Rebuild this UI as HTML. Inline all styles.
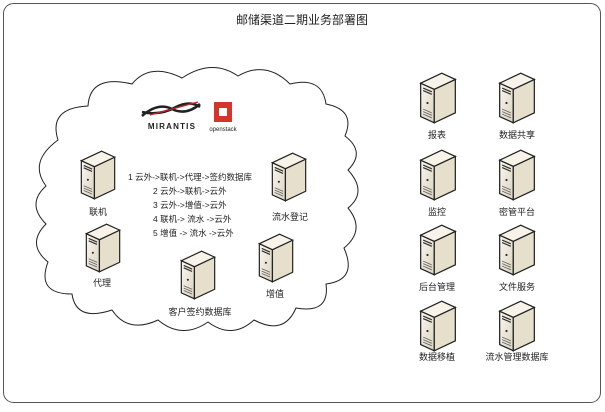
<!DOCTYPE html>
<html><head><meta charset="utf-8"><style>
html,body{margin:0;padding:0;background:#fff;}
svg text{font-family:"Liberation Sans","Noto Sans CJK SC",sans-serif;fill:#222;}
</style></head><body>
<svg width="605" height="407" viewBox="0 0 605 407" xmlns="http://www.w3.org/2000/svg">
<defs>
<linearGradient id="gf" x1="0" y1="0" x2="1" y2="1"><stop offset="0" stop-color="#fbf8f0"/><stop offset="1" stop-color="#d9d2bf"/></linearGradient>
<symbol id="srv" viewBox="0 0 30 42">
<path d="M1 9 L12 14 L12 41 L1 36 Z" fill="url(#gf)" stroke="#222" stroke-width="1"/>
<path d="M12 14 L29 6 L29 33 L12 41 Z" fill="#e6dfcc" stroke="#222" stroke-width="1"/>
<path d="M1 9 L18 1 L29 6 L12 14 Z" fill="#f7f3e8" stroke="#222" stroke-width="1"/>
<path d="M3 13 L10 16 M3 15 L10 18" stroke="#333" stroke-width="1"/>
<circle cx="6.5" cy="25" r="0.9" fill="#333"/>
<path d="M3 30 L10 33 M3 32 L10 35 M3 34 L10 37" stroke="#666" stroke-width="0.7"/>
</symbol>
</defs>
<rect x="3.5" y="3.5" width="597" height="399" rx="10" fill="#fff" stroke="#555" stroke-width="1"/>
<text x="302" y="24" font-size="12" text-anchor="middle">邮储渠道二期业务部署图</text>
<path d="M58 140 Q48 108 88 106 Q90 74 132 84 Q150 62 182 78 Q212 58 238 76 Q266 60 290 84 Q322 76 326 104 Q356 110 345 136 Q366 152 348 170 Q368 192 348 208 Q366 230 344 248 Q358 280 326 284 Q330 314 296 308 Q284 336 254 320 Q232 340 208 322 Q182 340 158 320 Q128 334 112 310 Q76 322 72 294 Q36 294 48 262 Q26 244 46 224 Q26 204 46 186 Q28 162 58 140 Z" fill="#fff" stroke="#222" stroke-width="1"/>
<path d="M142 116 Q158 102 172 109 Q186 116 200 104 M142 112 Q160 116 176 107 Q190 100 200 107" stroke="#222" stroke-width="2.5" fill="none"/>
<path d="M150 115 L198 102" stroke="#c0232b" stroke-width="1.3"/>
<text x="172" y="129" font-size="8" font-weight="bold" text-anchor="middle" letter-spacing="1.2">MIRANTIS</text>
<rect x="214" y="102" width="18" height="20" fill="#d4342a"/><rect x="219" y="108" width="8" height="8" fill="#fff"/>
<text x="223" y="131" font-size="6" text-anchor="middle" fill="#c0232b">openstack</text>
<g font-size="8.5">
<text x="128" y="180">1  云外->联机->代理->签约数据库</text>
<text x="153" y="194">2 云外->联机->云外</text>
<text x="153" y="208">3 云外->增值->云外</text>
<text x="153" y="222">4 联机-> 流水 ->云外</text>
<text x="153" y="236">5 增值 -> 流水 ->云外</text>
</g>
<g font-size="9" text-anchor="middle">
<use href="#srv" x="80" y="150" width="36" height="50"/><text x="98" y="215">联机</text>
<use href="#srv" x="85" y="223" width="36" height="50"/><text x="102" y="286">代理</text>
<use href="#srv" x="180" y="250" width="36" height="50"/><text x="200" y="315">客户签约数据库</text>
<use href="#srv" x="258" y="233" width="36" height="50"/><text x="275" y="297">增值</text>
<use href="#srv" x="271" y="152" width="36" height="50"/><text x="290" y="220">流水登记</text>
<use href="#srv" x="419" y="72" width="38" height="52"/><text x="437" y="138">报表</text>
<use href="#srv" x="498" y="72" width="38" height="52"/><text x="517" y="138">数据共享</text>
<use href="#srv" x="419" y="149" width="38" height="52"/><text x="437" y="215">监控</text>
<use href="#srv" x="498" y="149" width="38" height="52"/><text x="517" y="215">密管平台</text>
<use href="#srv" x="419" y="224" width="38" height="52"/><text x="437" y="290">后台管理</text>
<use href="#srv" x="498" y="224" width="38" height="52"/><text x="517" y="290">文件服务</text>
<use href="#srv" x="419" y="300" width="38" height="52"/><text x="437" y="360">数据移植</text>
<use href="#srv" x="498" y="300" width="38" height="52"/><text x="517" y="360">流水管理数据库</text>
</g>
</svg>
</body></html>
